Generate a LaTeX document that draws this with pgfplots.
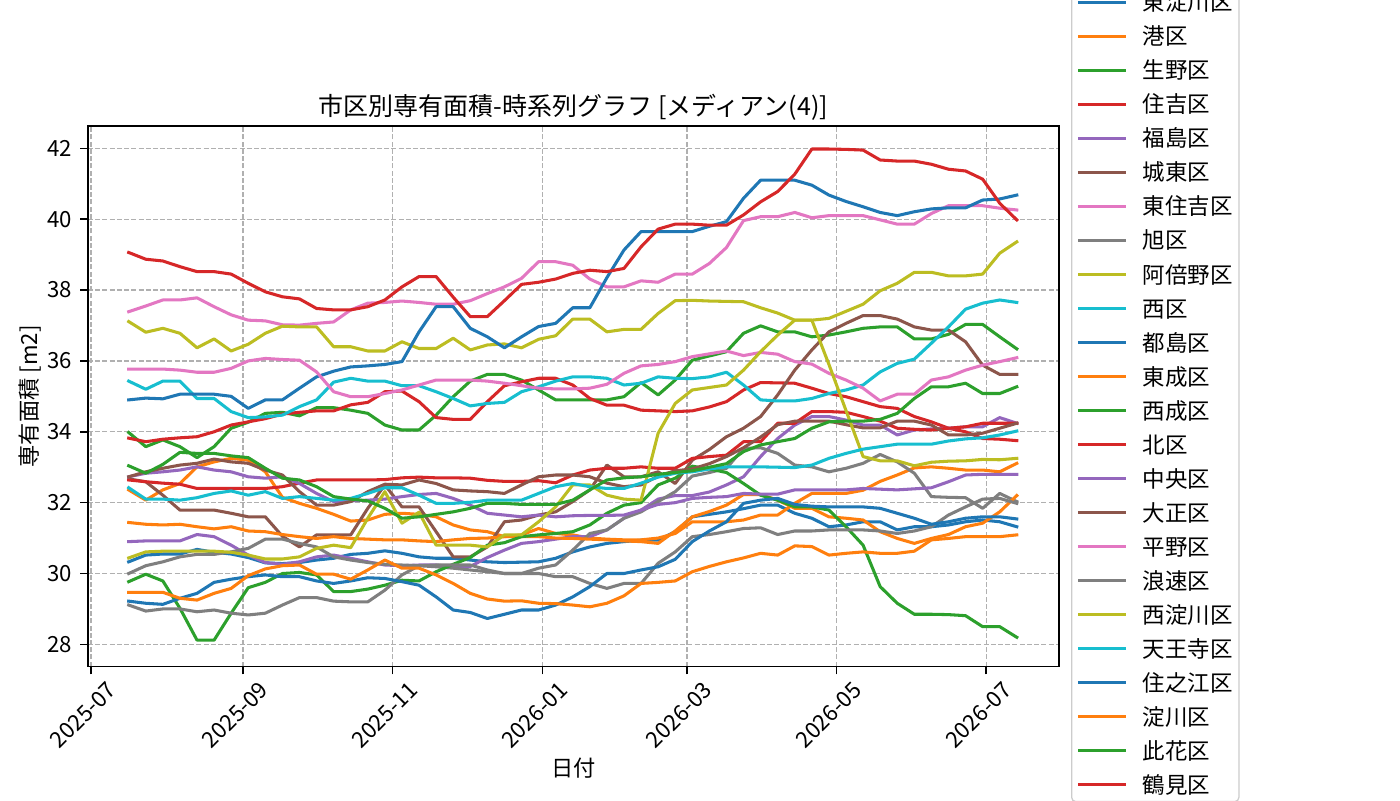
\documentclass[border=0pt]{standalone}
\usepackage{fontspec}
\setmainfont{Noto Sans CJK JP}
\usepackage{pgfplots}
\pgfplotsset{compat=1.18}
\definecolor{c0}{HTML}{1F77B4}
\definecolor{c1}{HTML}{FF7F0E}
\definecolor{c2}{HTML}{2CA02C}
\definecolor{c3}{HTML}{D62728}
\definecolor{c4}{HTML}{9467BD}
\definecolor{c5}{HTML}{8C564B}
\definecolor{c6}{HTML}{E377C2}
\definecolor{c7}{HTML}{7F7F7F}
\definecolor{c8}{HTML}{BCBD22}
\definecolor{c9}{HTML}{17BECF}
\definecolor{gridc}{HTML}{B0B0B0}
\definecolor{legc}{HTML}{CCCCCC}
\newcommand{\ser}[3]{\addplot[color=#1, line width=2.2pt, line join=round, line cap=rect] table[row sep=\\, header=false, x expr=\coordindex, y index=0] {#2};\addlegendentry{#3}}
\begin{document}
\begin{tikzpicture}
\useasboundingbox (0,0) rectangle (1008pt,576pt);
\begin{axis}[
 at={(63.36pt,95.98pt)}, anchor=south west,
 scale only axis, width=699.1pt, height=389.3pt,
 xmin=-2.383, xmax=54.47, ymin=27.37, ymax=42.63,
 xtick={-2.21,6.69,15.45,24.22,32.69,41.45,50.21},
 xticklabels={2025-07,2025-09,2025-11,2026-01,2026-03,2026-05,2026-07},
 ytick={28,30,32,34,36,38,40,42},
 tick pos=left, tick align=outside, major tick length=5.6pt,
 every tick/.style={black, line width=1.1pt},
 axis line style={line width=1.1pt},
 grid=major, major grid style={gridc, line width=0.9pt, dash pattern=on 3.6pt off 1.6pt},
 /pgf/number format/assume math mode=true,
 tick label style={font=\fontsize{16}{16}\selectfont},
 yticklabel style={inner xsep=0pt, xshift=-5.6pt},
 xticklabel style={xshift=11pt, yshift=-4pt, rotate=45, anchor=north east, inner sep=0pt},
 title={市区別専有面積-時系列グラフ [メディアン(4)]},
 title style={font=\fontsize{18}{18}\selectfont, at={(0.5,1)}, anchor=south, inner sep=0pt, yshift=-2.5pt},
 xlabel={日付}, ylabel={専有面積 [m2]},
 label style={font=\fontsize{16}{16}\selectfont},
 xlabel style={at={(axis description cs:0.5,-0.1873)}, anchor=center},
 ylabel style={at={(axis description cs:-0.0597,0.5)}, anchor=center},
 legend style={at={(1.0124,0.5053)}, anchor=west, draw=legc, line width=0.9pt, rounded corners=3pt, fill=white, font=\fontsize{16.2}{16.2}\selectfont, inner xsep=4.5pt, inner ysep=4pt, row sep=8.3pt, nodes={inner sep=0pt, text height=14.3pt, text depth=1.9pt}, /tikz/every odd column/.append style={column sep=12pt}},
 legend cell align=left,
 legend image code/.code={\draw[#1] (0pt,0pt) -- (32.4pt,0pt);},
]
\ser{c0}{30.33\\30.52\\30.55\\30.55\\30.68\\30.6\\30.55\\30.45\\30.3\\30.28\\30.31\\30.38\\30.43\\30.54\\30.57\\30.64\\30.57\\30.47\\30.43\\30.43\\30.38\\30.33\\30.31\\30.32\\30.33\\30.43\\30.61\\30.75\\30.85\\30.9\\30.94\\30.94\\31.18\\31.6\\31.67\\31.74\\31.83\\31.93\\31.93\\31.7\\31.56\\31.32\\31.37\\31.46\\31.46\\31.23\\31.32\\31.32\\31.37\\31.46\\31.51\\31.46\\31.32\\}{東淀川区}
\ser{c1}{32.36\\32.07\\32.36\\32.54\\33.01\\33.15\\33.25\\33.2\\32.87\\32.15\\31.98\\31.84\\31.67\\31.48\\31.51\\31.67\\31.7\\31.67\\31.6\\31.37\\31.23\\31.18\\31.04\\31.09\\31.27\\31.13\\31.09\\31.0\\30.97\\30.95\\30.95\\31.0\\31.13\\31.46\\31.46\\31.46\\31.51\\31.65\\31.65\\31.98\\32.26\\32.26\\32.26\\32.35\\32.6\\32.78\\32.98\\33.01\\32.97\\32.92\\32.92\\32.87\\33.11\\}{港区}
\ser{c2}{33.98\\33.58\\33.77\\33.58\\33.27\\33.58\\34.1\\34.27\\34.52\\34.55\\34.45\\34.68\\34.68\\34.61\\34.52\\34.19\\34.05\\34.05\\34.47\\34.99\\35.43\\35.62\\35.62\\35.46\\35.18\\34.9\\34.9\\34.9\\34.9\\34.99\\35.39\\35.04\\35.46\\36.02\\36.14\\36.26\\36.78\\36.99\\36.82\\36.82\\36.68\\36.73\\36.82\\36.92\\36.96\\36.96\\36.62\\36.62\\36.75\\37.03\\37.03\\36.68\\36.34\\}{生野区}
\ser{c3}{33.82\\33.72\\33.79\\33.83\\33.86\\34.0\\34.19\\34.28\\34.37\\34.5\\34.55\\34.59\\34.59\\34.76\\34.83\\35.13\\35.15\\34.85\\34.4\\34.35\\34.35\\34.85\\35.3\\35.41\\35.51\\35.51\\35.32\\34.94\\34.75\\34.75\\34.61\\34.59\\34.57\\34.59\\34.7\\34.85\\35.18\\35.39\\35.38\\35.37\\35.23\\35.08\\34.99\\34.85\\34.71\\34.66\\34.43\\34.28\\34.1\\34.0\\33.81\\33.79\\33.75\\}{住吉区}
\ser{c4}{30.9\\30.92\\30.92\\30.92\\31.1\\31.04\\30.8\\30.52\\30.31\\30.26\\30.33\\30.47\\30.52\\30.43\\30.33\\30.24\\30.22\\30.24\\30.24\\30.19\\30.2\\30.45\\30.66\\30.85\\30.9\\30.97\\31.04\\31.04\\31.23\\31.56\\31.79\\32.1\\32.2\\32.2\\32.3\\32.5\\32.73\\33.3\\33.81\\34.19\\34.43\\34.43\\34.33\\34.19\\34.19\\33.91\\34.05\\34.08\\34.1\\34.14\\34.14\\34.4\\34.24\\}{福島区}
\ser{c5}{32.67\\32.59\\32.21\\31.79\\31.79\\31.79\\31.7\\31.6\\31.6\\31.05\\30.75\\31.09\\31.09\\31.09\\31.84\\32.5\\31.88\\31.88\\31.18\\30.47\\30.47\\30.75\\31.46\\31.51\\31.65\\31.74\\32.03\\32.36\\33.06\\32.73\\32.73\\32.87\\32.54\\33.2\\33.5\\33.86\\34.1\\34.43\\35.04\\35.74\\36.31\\36.82\\37.06\\37.28\\37.28\\37.18\\36.96\\36.87\\36.87\\36.54\\35.88\\35.62\\35.62\\}{城東区}
\ser{c6}{37.39\\37.55\\37.72\\37.72\\37.78\\37.53\\37.3\\37.15\\37.13\\37.02\\37.01\\37.06\\37.1\\37.44\\37.63\\37.65\\37.69\\37.65\\37.6\\37.6\\37.7\\37.9\\38.09\\38.33\\38.8\\38.8\\38.7\\38.31\\38.09\\38.09\\38.26\\38.22\\38.45\\38.45\\38.75\\39.2\\39.96\\40.07\\40.07\\40.19\\40.04\\40.1\\40.1\\40.1\\39.98\\39.86\\39.86\\40.16\\40.38\\40.38\\40.38\\40.31\\40.26\\}{東住吉区}
\ser{c7}{30.0\\30.22\\30.33\\30.47\\30.54\\30.54\\30.61\\30.71\\30.97\\30.97\\30.85\\30.75\\30.47\\30.38\\30.31\\30.26\\30.24\\30.22\\30.19\\30.15\\30.1\\30.05\\30.0\\30.0\\30.15\\30.24\\30.66\\31.13\\31.23\\31.56\\31.74\\32.03\\32.31\\32.75\\32.85\\32.97\\33.53\\33.55\\33.39\\33.06\\33.01\\32.87\\32.97\\33.11\\33.36\\33.15\\32.83\\32.17\\32.15\\32.14\\31.84\\32.26\\32.03\\}{旭区}
\ser{c8}{37.11\\36.81\\36.92\\36.78\\36.37\\36.62\\36.28\\36.47\\36.78\\36.98\\36.96\\36.96\\36.4\\36.4\\36.28\\36.28\\36.54\\36.35\\36.35\\36.64\\36.31\\36.45\\36.48\\36.37\\36.61\\36.71\\37.18\\37.18\\36.82\\36.89\\36.89\\37.34\\37.7\\37.71\\37.69\\37.68\\37.67\\37.5\\37.35\\37.15\\37.15\\37.2\\37.4\\37.6\\37.98\\38.19\\38.5\\38.5\\38.4\\38.4\\38.45\\39.04\\39.36\\}{阿倍野区}
\ser{c9}{35.43\\35.2\\35.43\\35.43\\34.94\\34.94\\34.57\\34.4\\34.42\\34.47\\34.71\\34.9\\35.4\\35.51\\35.43\\35.43\\35.3\\35.3\\35.13\\34.94\\34.73\\34.8\\34.83\\35.13\\35.27\\35.43\\35.55\\35.55\\35.51\\35.32\\35.37\\35.55\\35.51\\35.5\\35.55\\35.68\\35.32\\34.9\\34.87\\34.87\\34.94\\35.08\\35.18\\35.32\\35.69\\35.93\\36.05\\36.5\\36.96\\37.46\\37.63\\37.72\\37.65\\}{西区}
\ser{c0}{34.9\\34.95\\34.93\\35.06\\35.06\\35.06\\35.0\\34.66\\34.9\\34.9\\35.23\\35.55\\35.71\\35.83\\35.86\\35.9\\35.98\\36.82\\37.53\\37.53\\36.92\\36.68\\36.37\\36.68\\36.97\\37.06\\37.5\\37.5\\38.35\\39.13\\39.65\\39.65\\39.65\\39.65\\39.8\\39.93\\40.59\\41.1\\41.1\\41.1\\40.96\\40.68\\40.5\\40.35\\40.19\\40.1\\40.21\\40.29\\40.32\\40.32\\40.54\\40.57\\40.68\\}{都島区}
\ser{c1}{31.44\\31.39\\31.37\\31.39\\31.32\\31.26\\31.32\\31.2\\31.18\\31.1\\31.04\\30.99\\31.04\\30.99\\30.97\\30.95\\30.95\\30.92\\30.9\\30.95\\30.99\\31.0\\31.04\\31.04\\31.04\\31.0\\30.99\\30.97\\30.95\\30.92\\30.9\\30.85\\31.2\\31.6\\31.75\\31.93\\32.23\\32.23\\32.07\\31.84\\31.84\\31.6\\31.56\\31.51\\31.18\\30.99\\30.85\\30.99\\31.1\\31.32\\31.42\\31.74\\32.2\\}{東成区}
\ser{c2}{29.77\\29.98\\29.79\\29.02\\28.12\\28.12\\28.88\\29.6\\29.75\\30.0\\30.03\\29.96\\29.49\\29.49\\29.56\\29.67\\29.81\\29.79\\30.05\\30.26\\30.45\\30.8\\30.87\\31.04\\31.09\\31.13\\31.18\\31.37\\31.7\\31.93\\32.0\\32.5\\32.69\\33.03\\32.95\\32.85\\32.54\\32.21\\32.07\\31.88\\31.88\\31.79\\31.32\\30.8\\29.63\\29.16\\28.85\\28.85\\28.84\\28.81\\28.5\\28.5\\28.2\\}{西成区}
\ser{c3}{32.64\\32.59\\32.55\\32.52\\32.4\\32.4\\32.4\\32.4\\32.4\\32.45\\32.55\\32.64\\32.64\\32.64\\32.64\\32.65\\32.7\\32.72\\32.7\\32.7\\32.69\\32.63\\32.6\\32.6\\32.62\\32.56\\32.78\\32.92\\32.97\\32.97\\33.01\\32.97\\32.97\\33.25\\33.3\\33.34\\33.72\\33.72\\34.24\\34.24\\34.57\\34.57\\34.55\\34.43\\34.3\\34.1\\34.07\\34.05\\34.1\\34.14\\34.24\\34.24\\34.24\\}{北区}
\ser{c4}{32.73\\32.83\\32.87\\32.92\\33.01\\32.92\\32.87\\32.73\\32.69\\32.73\\32.54\\32.26\\32.03\\32.05\\32.07\\32.1\\32.17\\32.23\\32.26\\32.12\\31.93\\31.7\\31.65\\31.6\\31.65\\31.6\\31.63\\31.64\\31.64\\31.65\\31.79\\31.95\\32.0\\32.12\\32.15\\32.17\\32.26\\32.24\\32.24\\32.36\\32.36\\32.36\\32.36\\32.4\\32.38\\32.36\\32.39\\32.42\\32.59\\32.78\\32.8\\32.8\\32.8\\}{中央区}
\ser{c5}{32.73\\32.87\\32.97\\33.06\\33.11\\33.23\\33.15\\33.11\\32.92\\32.78\\32.31\\31.93\\31.93\\32.03\\32.31\\32.52\\32.5\\32.64\\32.54\\32.36\\32.33\\32.31\\32.26\\32.5\\32.73\\32.78\\32.78\\32.73\\32.55\\32.45\\32.5\\32.75\\32.9\\32.95\\33.1\\33.3\\33.55\\33.85\\34.2\\34.3\\34.3\\34.3\\34.2\\34.11\\34.11\\34.3\\34.3\\34.19\\33.91\\33.91\\33.96\\34.1\\34.24\\}{大正区}
\ser{c6}{35.77\\35.77\\35.77\\35.74\\35.68\\35.68\\35.79\\36.0\\36.07\\36.04\\36.02\\35.69\\35.13\\34.99\\34.99\\35.08\\35.18\\35.32\\35.46\\35.46\\35.46\\35.43\\35.37\\35.3\\35.23\\35.21\\35.21\\35.23\\35.34\\35.65\\35.86\\35.9\\35.98\\36.12\\36.2\\36.28\\36.15\\36.24\\36.19\\35.98\\35.91\\35.65\\35.46\\35.23\\34.87\\35.06\\35.06\\35.46\\35.55\\35.74\\35.88\\35.98\\36.09\\}{平野区}
\ser{c7}{29.11\\28.94\\29.0\\29.0\\28.92\\28.97\\28.88\\28.83\\28.88\\29.11\\29.32\\29.32\\29.22\\29.2\\29.2\\29.53\\29.96\\30.22\\30.24\\30.24\\30.24\\30.1\\30.0\\30.0\\30.0\\29.91\\29.91\\29.72\\29.58\\29.72\\29.72\\30.29\\30.61\\31.04\\31.1\\31.18\\31.27\\31.29\\31.1\\31.2\\31.2\\31.23\\31.23\\31.23\\31.2\\31.13\\31.2\\31.32\\31.65\\31.88\\32.1\\32.12\\31.98\\}{浪速区}
\ser{c8}{30.44\\30.61\\30.63\\30.63\\30.63\\30.63\\30.6\\30.52\\30.41\\30.41\\30.47\\30.71\\30.8\\30.73\\31.56\\32.31\\31.42\\31.73\\30.8\\30.8\\30.8\\30.75\\31.09\\31.09\\31.46\\31.88\\32.5\\32.5\\32.21\\32.1\\32.07\\33.96\\34.8\\35.18\\35.25\\35.32\\35.74\\36.26\\36.73\\37.15\\37.15\\35.9\\34.6\\33.3\\33.18\\33.18\\33.04\\33.14\\33.17\\33.18\\33.22\\33.21\\33.25\\}{西淀川区}
\ser{c9}{32.42\\32.1\\32.1\\32.07\\32.14\\32.26\\32.33\\32.21\\32.31\\32.12\\32.17\\32.12\\32.07\\32.12\\32.26\\32.42\\32.42\\32.21\\31.98\\31.98\\32.01\\32.07\\32.07\\32.07\\32.26\\32.45\\32.54\\32.45\\32.4\\32.4\\32.55\\32.72\\32.83\\32.87\\32.95\\33.01\\33.01\\33.01\\33.0\\32.99\\33.06\\33.25\\33.39\\33.51\\33.58\\33.65\\33.65\\33.65\\33.74\\33.8\\33.83\\33.91\\34.02\\}{天王寺区}
\ser{c0}{29.22\\29.16\\29.13\\29.3\\29.44\\29.75\\29.84\\29.91\\29.96\\29.91\\29.91\\29.79\\29.72\\29.79\\29.88\\29.86\\29.77\\29.67\\29.34\\28.97\\28.9\\28.73\\28.85\\28.97\\28.97\\29.11\\29.34\\29.63\\30.0\\30.0\\30.1\\30.19\\30.4\\30.9\\31.2\\31.46\\31.98\\32.07\\32.12\\31.95\\31.9\\31.88\\31.88\\31.88\\31.84\\31.7\\31.56\\31.39\\31.46\\31.56\\31.6\\31.6\\31.54\\}{住之江区}
\ser{c1}{29.47\\29.47\\29.47\\29.3\\29.25\\29.44\\29.58\\29.94\\30.13\\30.22\\30.24\\29.98\\29.98\\29.84\\30.1\\30.38\\30.15\\30.15\\29.96\\29.72\\29.44\\29.28\\29.22\\29.23\\29.16\\29.15\\29.11\\29.06\\29.16\\29.37\\29.72\\29.75\\29.79\\30.05\\30.2\\30.33\\30.44\\30.57\\30.52\\30.78\\30.76\\30.52\\30.57\\30.61\\30.57\\30.57\\30.63\\30.95\\30.99\\31.04\\31.04\\31.04\\31.09\\}{淀川区}
\ser{c2}{33.04\\32.83\\33.08\\33.42\\33.39\\33.39\\33.32\\33.27\\32.97\\32.69\\32.64\\32.45\\32.17\\32.1\\32.05\\31.84\\31.56\\31.6\\31.67\\31.74\\31.84\\31.98\\31.98\\31.95\\31.95\\31.95\\32.07\\32.36\\32.64\\32.7\\32.73\\32.8\\32.85\\32.9\\33.0\\33.1\\33.44\\33.63\\33.72\\33.81\\34.1\\34.28\\34.3\\34.3\\34.35\\34.52\\34.94\\35.27\\35.27\\35.37\\35.08\\35.08\\35.27\\}{此花区}
\ser{c3}{39.06\\38.87\\38.82\\38.66\\38.52\\38.52\\38.45\\38.19\\37.95\\37.81\\37.75\\37.48\\37.44\\37.44\\37.53\\37.72\\38.09\\38.38\\38.38\\37.8\\37.25\\37.25\\37.7\\38.16\\38.22\\38.31\\38.47\\38.56\\38.52\\38.61\\39.22\\39.72\\39.86\\39.86\\39.83\\39.83\\40.12\\40.49\\40.78\\41.27\\41.98\\41.98\\41.97\\41.95\\41.67\\41.64\\41.64\\41.55\\41.41\\41.36\\41.13\\40.45\\39.98\\}{鶴見区}
\end{axis}
\end{tikzpicture}
\end{document}
